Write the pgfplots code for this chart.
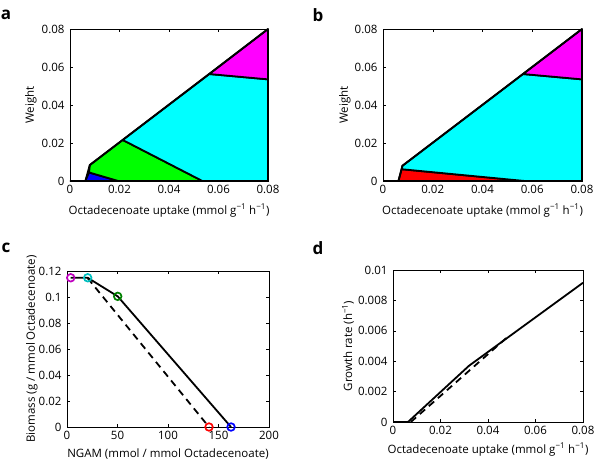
\documentclass[border=0pt]{standalone}
\usepackage{fontspec}
\setmainfont{Open Sans}
\usepackage{pgfplots}
\pgfplotsset{compat=1.18}

\definecolor{dm}{rgb}{0.75,0,0.75}
\definecolor{dc}{rgb}{0,0.75,0.75}
\definecolor{dg}{rgb}{0,0.5,0}
\definecolor{pc}{rgb}{0,1,1}
\definecolor{pm}{rgb}{1,0,1}
\definecolor{pg}{rgb}{0,1,0}
\definecolor{pb}{rgb}{0,0,1}
\definecolor{pr}{rgb}{1,0,0}

\pgfplotsset{
  mat/.style={
    scale only axis, anchor=south west,
    scaled ticks=false,
    tick align=inside, major tick length=3pt,
    axis line style={line width=0.5pt},
    every tick/.style={black, line width=0.4pt},
    ticklabel style={font=\fontsize{11.5}{13}\selectfont},
    label style={font=\fontsize{11.5}{13}\selectfont},
    xticklabel style={yshift=-1pt},
    yticklabel style={xshift=-2pt},
    /pgf/number format/assume math mode=true,
    /pgf/number format/fixed, /pgf/number format/precision=3,
  },
  % ylabel is rotated, so its yshift moves it to the left
  yl/.style={ylabel style={at={(axis description cs:0,0.5)}, anchor=center, yshift=#1}},
  xl/.style={xlabel style={at={(axis description cs:0.5,0)}, anchor=base, yshift=#1}},
  reg/.style={draw=black, line width=1.8pt, line join=round},
}

\begin{document}
\begin{tikzpicture}
\path[use as bounding box] (0,0) rectangle (600pt,459pt);

% panel a
\begin{axis}[mat, at={(70pt,278pt)}, width=198pt, height=152pt,
  yl=39pt, xl=-33pt,
  xmin=0, xmax=0.08, ymin=0, ymax=0.08, clip=false,
  xtick={0,0.02,0.04,0.06,0.08}, ytick={0,0.02,0.04,0.06,0.08},
  xlabel={Octadecenoate uptake (mmol g\textsuperscript{−1} h\textsuperscript{−1})},
  ylabel={Weight}]
\addplot[reg, fill=pb] coordinates {(0.0062,0) (0.0077,0.0045) (0.0195,0)} -- cycle;
\addplot[reg, fill=pg] coordinates {(0.0077,0.0045) (0.008,0.0084) (0.0213,0.0216) (0.0535,0) (0.0195,0)} -- cycle;
\addplot[reg, fill=pc] coordinates {(0.0213,0.0216) (0.0563,0.0563) (0.08,0.0535) (0.08,0) (0.0535,0)} -- cycle;
\addplot[reg, fill=pm] coordinates {(0.0563,0.0563) (0.08,0.08) (0.08,0.0535)} -- cycle;
\addplot[reg] coordinates {(0,0) (0.0062,0) (0.008,0.0084) (0.08,0.08)};
\end{axis}

% panel b
\begin{axis}[mat, at={(383pt,278pt)}, width=199pt, height=152pt,
  yl=38pt, xl=-33pt,
  xmin=0, xmax=0.08, ymin=0, ymax=0.08, clip=false,
  xtick={0,0.02,0.04,0.06,0.08}, ytick={0,0.02,0.04,0.06,0.08},
  xlabel={Octadecenoate uptake (mmol g\textsuperscript{−1} h\textsuperscript{−1})},
  ylabel={Weight}]
\addplot[reg, fill=pr] coordinates {(0.0062,0) (0.0075,0.0062) (0.057,0)} -- cycle;
\addplot[reg, fill=pc] coordinates {(0.0075,0.0062) (0.0078,0.0080) (0.0563,0.0563) (0.08,0.0535) (0.08,0) (0.057,0)} -- cycle;
\addplot[reg, fill=pm] coordinates {(0.0563,0.0563) (0.08,0.08) (0.08,0.0535)} -- cycle;
\addplot[reg] coordinates {(0,0) (0.0062,0) (0.0078,0.0080) (0.08,0.08)};
\end{axis}

% panel c
\begin{axis}[mat, at={(67pt,32pt)}, width=202pt, height=156pt,
  yl=35pt, xl=-30pt,
  xmin=0, xmax=200, ymin=0, ymax=0.12, clip=false,
  xtick={0,50,100,150,200}, ytick={0,0.02,0.04,0.06,0.08,0.1,0.12},
  xlabel={NGAM (mmol / mmol Octadecenoate)},
  ylabel={Biomass (g / mmol Octadecenoate)}]
\addplot[black, line width=1.8pt, dash pattern=on 7pt off 5pt] coordinates {(20.5,0.1145) (140.6,0)};
\addplot[black, line width=1.8pt] coordinates {(3.7,0.1148) (20.5,0.1148) (50.2,0.1005) (162.4,0)};
\addplot[only marks, mark=o, mark size=3.8pt, line width=1.7pt, dm] coordinates {(3.7,0.1148)};
\addplot[only marks, mark=o, mark size=3.8pt, line width=1.7pt, dc] coordinates {(20.5,0.1148)};
\addplot[only marks, mark=o, mark size=3.8pt, line width=1.7pt, dg] coordinates {(50.2,0.1005)};
\addplot[only marks, mark=o, mark size=3.8pt, line width=1.7pt, pr] coordinates {(140.6,0)};
\addplot[only marks, mark=o, mark size=3.8pt, line width=1.7pt, pb] coordinates {(162.4,0)};
\end{axis}

% panel d
\begin{axis}[mat, at={(393pt,37pt)}, width=190pt, height=152pt,
  yl=45pt, xl=-31pt,
  xmin=0, xmax=0.08, ymin=0, ymax=0.01, clip=false,
  xtick={0,0.02,0.04,0.06,0.08}, ytick={0,0.002,0.004,0.006,0.008,0.01},
  xlabel={Octadecenoate uptake (mmol g\textsuperscript{−1} h\textsuperscript{−1})},
  ylabel={Growth rate (h\textsuperscript{−1})}]
\addplot[black, line width=1.8pt, dash pattern=on 7pt off 5pt] coordinates {(0.0075,0) (0.049,0.0057)};
\addplot[black, line width=1.8pt] coordinates {(0,0) (0.0063,0) (0.032,0.0037) (0.08,0.00916)};
\end{axis}

\node[font=\fontsize{17}{19}\selectfont\bfseries] at (6pt,444pt) {a};
\node[font=\fontsize{17}{19}\selectfont\bfseries] at (318pt,444pt) {b};
\node[font=\fontsize{17}{19}\selectfont\bfseries] at (6pt,211pt) {c};
\node[font=\fontsize{17}{19}\selectfont\bfseries] at (318pt,211pt) {d};
\end{tikzpicture}
\end{document}
